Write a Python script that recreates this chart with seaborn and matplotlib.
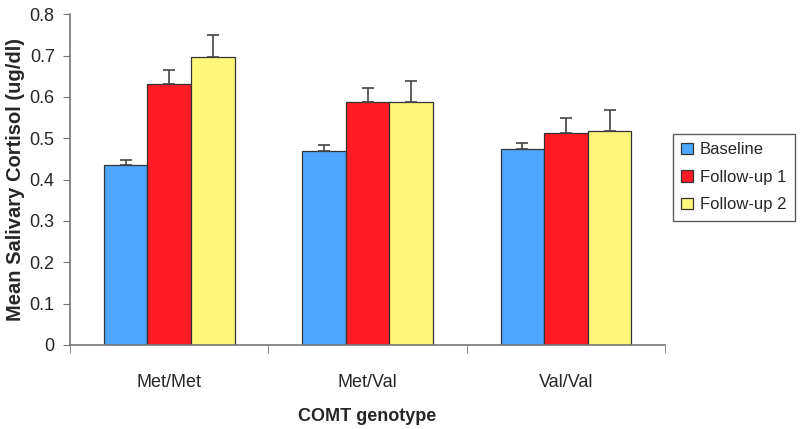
import pandas as pd
import seaborn as sns
import matplotlib.pyplot as plt

# dados
genotipos = ["Met/Met", "Met/Val", "Val/Val"]
visitas = ["Baseline", "Follow-up 1", "Follow-up 2"]
baseline = [0.435, 0.470, 0.475]
followup1 = [0.632, 0.588, 0.512]
followup2 = [0.697, 0.588, 0.517]
erro_baseline = [0.012, 0.013, 0.014]
erro_followup1 = [0.034, 0.034, 0.036]
erro_followup2 = [0.053, 0.051, 0.051]
cores = ["#4DA6FF", "#FF1C24", "#FFF67A"]

medias = [baseline, followup1, followup2]
erros = [erro_baseline, erro_followup1, erro_followup2]

linhas = []
for v, vals in zip(visitas, medias):
    for g, val in zip(genotipos, vals):
        linhas.append({"genotype": g, "visit": v, "cortisol": val})
df = pd.DataFrame(linhas)

sns.set_style("white")
plt.rcParams["font.family"] = ["Liberation Sans", "DejaVu Sans"]

fig = plt.figure(figsize=(8, 4.29), dpi=100)
ax = fig.add_axes([0.0875, 0.196, 0.744, 0.771])

sns.barplot(data=df, x="genotype", y="cortisol", hue="visit", order=genotipos,
            hue_order=visitas, palette=cores, saturation=1, width=0.66,
            edgecolor="#333333", linewidth=0.9, errorbar=None, ax=ax)

# barras de erro (só para cima)
for cont, err in zip(ax.containers, erros):
    for barra, e in zip(cont, err):
        x = barra.get_x() + barra.get_width() / 2
        h = barra.get_height()
        ax.errorbar(x, h, yerr=[[0], [e]], fmt="none", ecolor="#444444",
                    elinewidth=1.2, capsize=4, capthick=1.2, zorder=1)

ax.set_ylim(0, 0.8)
ax.set_xlim(-0.5, 2.5)
ax.set_yticks([i / 10 for i in range(9)])
ax.set_yticklabels(["0"] + [f"{i / 10:.1f}" for i in range(1, 9)], fontsize=13)
ax.set_xticks([0, 1, 2])
ax.set_xticklabels(genotipos, fontsize=13)
ax.set_xticks([-0.5, 0.5, 1.5, 2.5], minor=True)
ax.tick_params(axis="x", which="major", length=0, pad=21)
ax.tick_params(axis="x", which="minor", length=6, color="#777777", bottom=True)
ax.tick_params(axis="y", length=5, color="#777777", left=True, pad=6)

sns.despine(ax=ax)
for lado in ["left", "bottom"]:
    ax.spines[lado].set_color("#777777")
    ax.spines[lado].set_linewidth(1.2)

ax.set_xlabel("COMT genotype", fontsize=13, fontweight="bold", labelpad=12)
ax.set_ylabel("Mean Salivary Cortisol (ug/dl)", fontsize=14.5, fontweight="bold")
ax.yaxis.set_label_coords(-0.076, 0.5)

sns.move_legend(ax, "upper left", bbox_to_anchor=(673 / 800, 1 - 134 / 429),
                bbox_transform=fig.transFigure, title=None, frameon=True,
                fontsize=12, handlelength=0.7, handleheight=0.7,
                handletextpad=0.4, borderpad=0.5, labelspacing=0.75,
                borderaxespad=0, fancybox=False, edgecolor="#333333")

plt.savefig("out.png", dpi=100)
